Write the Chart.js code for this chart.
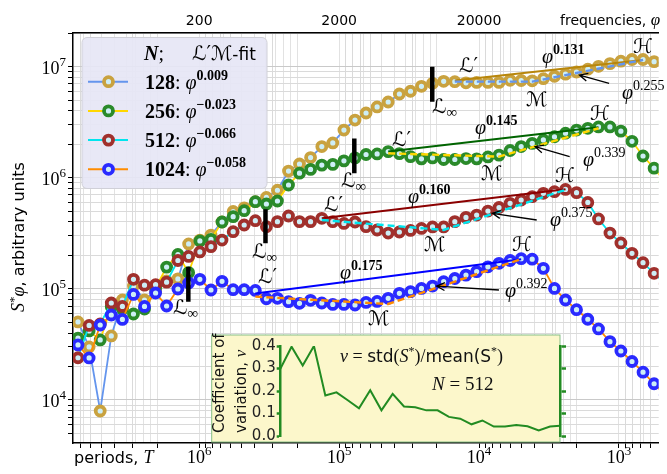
<!DOCTYPE html>
<html>
<head>
<meta charset="utf-8">
<script src="https://cdn.jsdelivr.net/npm/chart.js@4.4.1/dist/chart.umd.min.js"></script>
<style>
  html, body { margin: 0; padding: 0; background: #fff; overflow: hidden; }
  #wrap { position: relative; width: 667px; height: 474px; }
  #main { position: absolute; left: 0; top: 0; }
  #inset { position: absolute; left: 205px; top: 330px; }
</style>
</head>
<body>
<div id="wrap">
  <canvas id="main" width="667" height="474"></canvas>
  <canvas id="inset" width="370" height="116"></canvas>
</div>
<script>
// periods T (common grid of all series)
const periods = [
  7.35e6, 6.12e6, 5.10e6, 4.25e6, 3.54e6, 2.95e6, 2.46e6, 2.05e6, 1.71e6, 1.42e6,
  1.19e6, 9.89e5, 8.24e5, 6.87e5, 5.72e5, 4.77e5, 3.97e5, 3.31e5, 2.76e5, 2.30e5,
  1.92e5, 1.60e5, 1.33e5, 1.11e5, 9.24e4, 7.70e4, 6.42e4, 5.35e4, 4.46e4, 3.71e4,
  3.09e4, 2.58e4, 2.15e4, 1.79e4, 1.49e4, 1.24e4, 1.04e4, 8.64e3, 7.20e3, 6.00e3,
  5.00e3, 4.17e3, 3.47e3, 2.89e3, 2.41e3, 2.01e3, 1.67e3, 1.40e3, 1.16e3, 969,
  807, 673, 561, 467];

// S*phi for N = 128, 256, 512, 1024
const s128 = [
  5.04e4, 3.00e4, 7.96e3, 3.77e4, 7.94e4, 1.06e5, 7.94e4, 9.58e4, 1.18e5, 1.23e5,
  2.54e5, 2.75e5, 3.05e5, 4.00e5, 4.97e5, 5.37e5, 6.09e5, 6.65e5, 7.72e5, 1.15e6,
  1.33e6, 1.52e6, 1.91e6, 2.06e6, 2.69e6, 3.31e6, 3.83e6, 4.34e6, 4.81e6, 5.68e6,
  6.01e6, 6.66e6, 7.09e6, 7.39e6, 7.33e6, 7.16e6, 7.21e6, 7.21e6, 7.21e6, 7.54e6,
  7.51e6, 7.46e6, 7.80e6, 8.20e6, 8.56e6, 8.96e6, 9.49e6, 1.008e7, 1.066e7, 1.12e7,
  1.16e7, 1.16e7, 1.11e7, 1.06e7];
const s256 = [
  3.61e4, 4.18e4, 3.47e4, 6.87e4, 6.59e4, 5.94e4, 6.59e4, 1.02e5, 1.57e5, 2.04e5,
  1.40e5, 2.70e5, 2.79e5, 4.00e5, 4.47e5, 5.06e5, 6.09e5, 5.81e5, 6.18e5, 8.61e5,
  1.10e6, 1.19e6, 1.30e6, 1.32e6, 1.42e6, 1.51e6, 1.62e6, 1.64e6, 1.72e6, 1.65e6,
  1.55e6, 1.48e6, 1.51e6, 1.46e6, 1.46e6, 1.49e6, 1.48e6, 1.54e6, 1.60e6, 1.76e6,
  1.91e6, 2.04e6, 2.19e6, 2.34e6, 2.52e6, 2.69e6, 2.79e6, 2.87e6, 2.87e6, 2.63e6,
  2.13e6, 1.57e6, 1.22e6, 9.16e5];
const s512 = [
  2.40e4, 4.69e4, 4.83e4, 7.46e4, 6.95e4, 1.22e5, 1.08e5, 1.09e5, 1.15e5, 1.80e5,
  1.96e5, 2.15e5, 2.40e5, 2.75e5, 3.27e5, 3.76e5, 4.11e5, 3.63e5, 4.03e5, 4.53e5,
  4.03e5, 4.03e5, 4.32e5, 4.03e5, 3.88e5, 4.00e5, 3.63e5, 3.39e5, 3.18e5, 3.25e5,
  3.36e5, 3.50e5, 3.61e5, 3.61e5, 4.03e5, 4.40e5, 4.62e5, 5.02e5, 5.40e5, 5.89e5,
  6.31e5, 6.76e5, 7.25e5, 7.50e5, 7.85e5, 7.35e5, 6.00e5, 4.26e5, 3.18e5, 2.59e5,
  2.09e5, 1.72e5, 1.38e5, 1.11e5];
const s1024 = [
  3.13e4, 2.39e4, 4.73e4, 5.82e4, 5.31e4, 8.91e4, 6.95e4, 9.18e4, 7.01e4, 9.98e4,
  1.13e5, 1.22e5, 9.77e4, 1.17e5, 9.84e4, 9.84e4, 9.68e4, 8.15e4, 8.23e4, 7.67e4,
  7.42e4, 7.89e4, 7.46e4, 7.24e4, 7.24e4, 7.16e4, 7.55e4, 7.71e4, 8.23e4, 9.12e4,
  9.44e4, 1.01e5, 1.06e5, 1.16e5, 1.24e5, 1.33e5, 1.43e5, 1.58e5, 1.70e5, 1.80e5,
  1.87e5, 1.85e5, 1.53e5, 1.01e5, 7.94e4, 6.50e4, 5.33e4, 4.36e4, 3.35e4, 2.76e4,
  2.22e4, 1.78e4, 1.40e4, 1.11e4];

// L' -> M -> H fit nodes (index into periods) and fitted values, per series
const lpIdx = [34, 28, 22, 16];
const mIdx  = [41, 38, 33, 28];
const hIdx  = [51, 47, 44, 40];
const solidStart = [7.5e6, 1.72e6, 4.32e5, 9.1e4];
const solidEnd   = [1.15e7, 2.85e6, 7.88e5, 1.85e5];
const dashL = [7.33e6, 1.66e6, 4.17e5, 8.51e4];
const dashM = [7.33e6, 1.55e6, 3.39e5, 7.31e4];
const dashH = [1.15e7, 2.79e6, 7.80e5, 1.85e5];

// L-infinity markers
const lInfPeriods = [2.16e4, 7.79e4, 3.36e5, 1.196e6];
const lInfTop     = [1.0e7, 2.26e6, 5.20e5, 1.58e5];
const lInfBottom  = [4.84e6, 1.10e6, 2.57e5, 7.67e4];

// arrows pointing at the M-H segment
const arrowTail = [[1176, 7.09e6], [2251, 1.549e6], [3871, 4.17e5], [7208, 9.77e4]];
const arrowHead = [[1914, 8.41e6], [3972, 1.905e6], [8035, 4.79e5], [2.01e4, 1.06e5]];

// inset: coefficient of variation, N = 512
const cvPeriods = periods.slice(18, 44);
const cvValues = [0.299, 0.397, 0.313, 0.400, 0.180, 0.194, 0.159, 0.123, 0.203, 0.114,
  0.187, 0.131, 0.128, 0.114, 0.114, 0.085, 0.077, 0.052, 0.069, 0.042,
  0.042, 0.049, 0.043, 0.025, 0.042, 0.046];

const seriesN = ['128', '256', '512', '1024'];
const legendExp = ['0.009', '\u22120.023', '\u22120.066', '\u22120.058'];
const expSolid = ['0.131', '0.145', '0.160', '0.175'];
const expDash = ['0.255', '0.339', '0.375', '0.392'];
const yTicks = [1e4, 1e5, 1e6, 1e7];
const xTicks = [1e6, 1e5, 1e4, 1e3];
const topTicks = [200, 2000, 20000];

// styles
const lineColors = ['#6495ed', '#ffd700', '#00e5ee', '#ff8c00'];
const edgeColors = ['#c9a23f', '#2a8a2a', '#a0302c', '#2a2aff'];
const fitColors  = ['#b8860b', '#006400', '#8b0000', '#0000ff'];
const faceColor = '#cdeef6';
const PHI_K = 2e8; // phi = PHI_K / T
const T_MIN = 520, T_MAX = 7.98e6;

const SER = "'Liberation Serif','DejaVu Serif',serif";
const SCR = "'DejaVu Serif','DejaVu Sans',serif";
const SANS = "'DejaVu Sans',sans-serif";

// text positions (px) of annotations
const posLp   = [[459, 72], [392, 146], [324, 211], [258, 283]];
const posLinf = [[432, 113], [341, 187], [252, 258], [173, 314]];
const posM    = [[526, 106], [481, 180], [424, 251], [368, 325]];
const posH    = [[633, 53], [590, 120], [555, 182], [512, 251]];
const posSolid = [[542, 63], [475, 134], [408, 203], [340, 279]];
const posDash  = [[622, 99], [583, 166], [550, 226], [505, 297]];

function logGrid(lo, hi) {
  const out = [];
  for (let e = -1; e < 9; e++) for (let k = 1; k < 10; k++) {
    const v = k * Math.pow(10, e);
    if (v >= lo * 0.999 && v <= hi * 1.001) out.push({ value: v, major: k === 1 });
  }
  return out;
}

function put(ctx, x, y, parts, align) {
  let w = 0;
  parts.forEach(p => { ctx.font = p[1]; w += ctx.measureText(p[0]).width; });
  let cx = align === 'center' ? x - w / 2 : align === 'right' ? x - w : x;
  ctx.textAlign = 'left'; ctx.textBaseline = 'alphabetic';
  parts.forEach(p => { ctx.font = p[1]; ctx.fillText(p[0], cx, y + (p[2] || 0)); cx += ctx.measureText(p[0]).width; });
  return w;
}

const allS = [s128, s256, s512, s1024];
const datasets = [];
allS.forEach((s, k) => {
  datasets.push({
    data: periods.map((t, i) => ({ x: t, y: s[i] })),
    borderColor: lineColors[k], borderWidth: 1.8,
    pointRadius: 4.5, pointBorderWidth: 3.8,
    pointBorderColor: edgeColors[k], pointBackgroundColor: faceColor,
    order: 40 - k * 10
  });
});
for (let k = 0; k < 4; k++) {
  datasets.push({
    data: [{ x: periods[lpIdx[k]], y: solidStart[k] }, { x: periods[hIdx[k]], y: solidEnd[k] }],
    borderColor: fitColors[k], borderWidth: 2, pointRadius: 0, order: 5
  });
  datasets.push({
    data: [{ x: periods[lpIdx[k]], y: dashL[k] }, { x: periods[mIdx[k]], y: dashM[k] }, { x: periods[hIdx[k]], y: dashH[k] }],
    borderColor: lineColors[k], borderWidth: 2.4, borderDash: [7, 4], pointRadius: 0, order: 4
  });
  datasets.push({
    data: [{ x: lInfPeriods[k], y: lInfTop[k] }, { x: lInfPeriods[k], y: lInfBottom[k] }],
    borderColor: '#000', borderWidth: 4.5, borderCapStyle: 'butt', pointRadius: 0, order: 1
  });
}

const mainTexts = {
  id: 'mainTexts',
  afterDatasetsDraw(chart) {
    const ctx = chart.ctx, xs = chart.scales.x, ys = chart.scales.y;
    ctx.save();
    ctx.strokeStyle = '#000'; ctx.lineWidth = 1.3;
    arrowTail.forEach((t, i) => {
      const x0 = xs.getPixelForValue(t[0]), y0 = ys.getPixelForValue(t[1]);
      const x1 = xs.getPixelForValue(arrowHead[i][0]), y1 = ys.getPixelForValue(arrowHead[i][1]);
      const a = Math.atan2(y1 - y0, x1 - x0);
      ctx.beginPath();
      ctx.moveTo(x0, y0); ctx.lineTo(x1, y1);
      ctx.moveTo(x1 - 9 * Math.cos(a - 0.45), y1 - 9 * Math.sin(a - 0.45));
      ctx.lineTo(x1, y1);
      ctx.lineTo(x1 - 9 * Math.cos(a + 0.45), y1 - 9 * Math.sin(a + 0.45));
      ctx.stroke();
    });
    ctx.fillStyle = '#000';
    for (let k = 0; k < 4; k++) {
      put(ctx, posLp[k][0], posLp[k][1], [['\u2112\u2032', '20px ' + SCR]]);
      put(ctx, posLinf[k][0], posLinf[k][1], [['\u2112', '20px ' + SCR], ['\u221e', '15px ' + SER, 4]]);
      put(ctx, posM[k][0], posM[k][1], [['\u2133', '20px ' + SCR]]);
      put(ctx, posH[k][0], posH[k][1], [['\u210b', '20px ' + SCR]]);
      put(ctx, posSolid[k][0], posSolid[k][1], [['\u03c6', 'italic 20px ' + SER], [expSolid[k], 'bold 14px ' + SER, -9]]);
      put(ctx, posDash[k][0], posDash[k][1], [['\u03c6', 'italic 20px ' + SER], [expDash[k], '14px ' + SER, -9]]);
    }
    ctx.restore();
  },
  afterDraw(chart) {
    const ctx = chart.ctx, xs = chart.scales.x, ys = chart.scales.y;
    ctx.save();
    ctx.fillStyle = '#000';
    yTicks.forEach(v => {
      const y = ys.getPixelForValue(v);
      put(ctx, 66, y + 7, [['10', '18px ' + SER], [String(Math.round(Math.log10(v))), '13px ' + SER, -8]], 'right');
    });
    xTicks.forEach(v => {
      const x = xs.getPixelForValue(v);
      put(ctx, x, 463, [['10', '18px ' + SER], [String(Math.round(Math.log10(v))), '13px ' + SER, -8]], 'center');
    });
    topTicks.forEach(f => {
      const x = xs.getPixelForValue(PHI_K / f);
      put(ctx, x, 25, [[String(f), '14px ' + SANS]], 'center');
    });
    put(ctx, 560, 25, [['frequencies, ', '14px ' + SANS], ['\u03c6', 'italic 17px ' + SER]]);
    put(ctx, 74, 463, [['periods, ', '16px ' + SANS], ['T', 'italic 18px ' + SER]]);
    ctx.save();
    ctx.translate(24, 312); ctx.rotate(-Math.PI / 2);
    put(ctx, 0, 0, [['S', 'italic 18px ' + SER], ['*', '13px ' + SER, -6], ['\u03c6', 'italic 18px ' + SER], [', arbitrary units', '16px ' + SANS]]);
    ctx.restore();

    // legend
    ctx.beginPath();
    ctx.roundRect(82, 37.5, 185, 151, 5);
    ctx.fillStyle = 'rgba(230,230,245,0.93)'; ctx.fill();
    ctx.strokeStyle = '#d0d0d8'; ctx.lineWidth = 1; ctx.stroke();
    ctx.fillStyle = '#000';
    put(ctx, 144, 60, [['N', 'bold italic 20px ' + SER], [';', '20px ' + SER]]);
    put(ctx, 192, 60, [['\u2112\u2032\u2133', '20px ' + SCR], ['-fit', '17px ' + SANS]]);
    for (let k = 0; k < 4; k++) {
      const yc = 81.7 + k * 29.2;
      ctx.strokeStyle = lineColors[k]; ctx.lineWidth = 2;
      ctx.beginPath(); ctx.moveTo(88, yc); ctx.lineTo(128, yc); ctx.stroke();
      ctx.beginPath(); ctx.arc(108.5, yc, 4.5, 0, Math.PI * 2);
      ctx.fillStyle = faceColor; ctx.fill();
      ctx.strokeStyle = edgeColors[k]; ctx.lineWidth = 3.8; ctx.stroke();
      ctx.fillStyle = '#000';
      put(ctx, 145, yc + 7, [[seriesN[k], 'bold 20px ' + SER], [': ', '20px ' + SER], ['\u03c6', 'italic 20px ' + SER], [legendExp[k], 'bold 14px ' + SER, -9]]);
    }
    ctx.restore();
  }
};

const gridCol = c => (c.tick && c.tick.major ? '#c9c9c9' : '#dadada');

new Chart(document.getElementById('main'), {
  type: 'line',
  data: { datasets },
  options: {
    responsive: false, animation: false, devicePixelRatio: 1,
    layout: { padding: 0 },
    plugins: { legend: { display: false }, tooltip: { enabled: false } },
    elements: { line: { tension: 0 } },
    scales: {
      x: {
        type: 'logarithmic', position: 'bottom', reverse: true, bounds: 'data',
        min: T_MIN, max: T_MAX,
        ticks: { display: false },
        grid: { color: gridCol, lineWidth: 1, drawTicks: true, tickLength: 5, tickColor: '#000' },
        border: { color: '#000', width: 1.5 },
        afterBuildTicks: s => { s.ticks = logGrid(T_MIN, T_MAX); },
        afterFit: s => { s.height = 31; }
      },
      x2: {
        type: 'logarithmic', position: 'top', bounds: 'data',
        min: PHI_K / T_MAX, max: PHI_K / T_MIN,
        ticks: { display: false },
        grid: { color: '#e2e2e2', lineWidth: 1, drawTicks: false },
        border: { color: '#000', width: 1.5 },
        afterBuildTicks: s => { s.ticks = logGrid(PHI_K / T_MAX, PHI_K / T_MIN); },
        afterFit: s => { s.height = 33; }
      },
      y: {
        type: 'logarithmic', position: 'left', bounds: 'data',
        min: 4100, max: 2.01e7,
        ticks: { display: false },
        grid: { color: gridCol, lineWidth: 1, drawTicks: true, tickLength: 5, tickColor: '#000' },
        border: { color: '#000', width: 1.5 },
        afterBuildTicks: s => { s.ticks = logGrid(4100, 2.01e7); },
        afterFit: s => { s.width = 73; }
      }
    }
  },
  plugins: [mainTexts]
});

// inset
const GREEN = '#228b22';
const insetTexts = {
  id: 'insetTexts',
  beforeDraw(chart) {
    const ctx = chart.ctx;
    ctx.save();
    ctx.fillStyle = '#fcf7cb';
    ctx.fillRect(6.7, 5, 348.3, 107);
    ctx.strokeStyle = '#86bf86'; ctx.lineWidth = 1;
    ctx.strokeRect(6.7, 5, 348.3, 107);
    ctx.restore();
  },
  afterDraw(chart) {
    const ctx = chart.ctx;
    ctx.save();
    ctx.fillStyle = '#111';
    ctx.save();
    ctx.translate(19, 103); ctx.rotate(-Math.PI / 2);
    put(ctx, 0, 0, [['Coefficient of', '15px ' + SANS]]);
    ctx.restore();
    ctx.save();
    ctx.translate(41, 103); ctx.rotate(-Math.PI / 2);
    put(ctx, 0, 0, [['variation, ', '15px ' + SANS], ['v', 'italic 17px ' + SER]]);
    ctx.restore();
    put(ctx, 135, 32, [['v', 'italic 18px ' + SER], [' = ', '18px ' + SER], ['std', '17px ' + SANS], ['(', '18px ' + SER],
      ['S', 'italic 18px ' + SER], ['*', '12px ' + SER, -7], [')/', '18px ' + SER], ['mean(S', '17px ' + SANS],
      ['*', '12px ' + SER, -7], [')', '18px ' + SER]]);
    put(ctx, 227, 60, [['N', 'italic 19px ' + SER], [' = 512', '19px ' + SER]]);
    ctx.restore();
  }
};

new Chart(document.getElementById('inset'), {
  type: 'line',
  data: { datasets: [{ data: cvPeriods.map((t, i) => ({ x: t, y: cvValues[i] })), borderColor: GREEN, borderWidth: 2, pointRadius: 0 }] },
  options: {
    responsive: false, animation: false, devicePixelRatio: 1,
    layout: { padding: { top: 16, bottom: 5, left: 0, right: 0 } },
    plugins: { legend: { display: false }, tooltip: { enabled: false } },
    elements: { line: { tension: 0 } },
    scales: {
      x: { type: 'logarithmic', reverse: true, min: 2951, max: 2.744e5, display: false },
      y: {
        position: 'left', min: 0, max: 0.4,
        ticks: { stepSize: 0.1, callback: v => v.toFixed(1), font: { family: 'DejaVu Sans', size: 15 }, color: '#222', padding: 1 },
        grid: { drawOnChartArea: false, tickLength: 4, tickColor: GREEN, tickWidth: 2.5 },
        border: { color: GREEN, width: 2.5 },
        afterFit: s => { s.width = 75.7; }
      },
      y2: {
        position: 'right', min: 0, max: 0.4,
        ticks: { stepSize: 0.1, display: false },
        grid: { drawOnChartArea: false, tickLength: 6, tickColor: GREEN, tickWidth: 2.5 },
        border: { color: GREEN, width: 2.5 },
        afterFit: s => { s.width = 15; }
      }
    }
  },
  plugins: [insetTexts]
});
</script>
</body>
</html>
